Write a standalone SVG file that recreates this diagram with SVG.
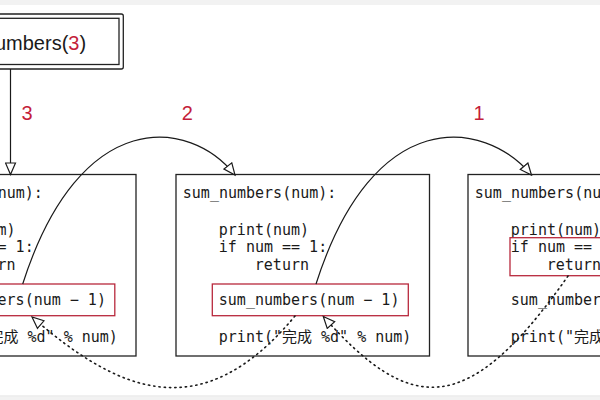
<svg xmlns="http://www.w3.org/2000/svg" width="600" height="400" viewBox="0 0 600 400">
<defs>
<style>
.code{font-family:"DejaVu Sans Mono","Noto Sans CJK SC",monospace;font-size:15px;fill:#1a1a1a}
.frame{fill:#fff;stroke:#222;stroke-width:1.3}
.hl{fill:none;stroke:#b8283c;stroke-width:1.3}
.lbl{font-family:"Liberation Sans",Arial,sans-serif;font-size:20px;fill:#c41e3a;text-anchor:middle}
.call{fill:none;stroke:#1a1a1a;stroke-width:1.2}
.ret{fill:none;stroke:#1a1a1a;stroke-width:1.6;stroke-dasharray:1.3 4;stroke-linecap:round}
</style>
<marker id="open" markerUnits="userSpaceOnUse" markerWidth="14" markerHeight="12" viewBox="0 0 14 12" refX="12.5" refY="6" orient="auto">
<path d="M1,1 L12.5,6 L1,11 Z" fill="#fff" stroke="#1a1a1a" stroke-width="1.2"/>
</marker>
</defs>
<rect x="0" y="0" width="600" height="400" fill="#fff"/>
<rect x="0" y="0" width="600" height="5" fill="#f2f2f2"/>
<rect x="0" y="396" width="600" height="4" fill="#f2f2f2"/>
<line x1="0" y1="395.8" x2="600" y2="395.8" stroke="#e4e4e4" stroke-width="0.8"/>

<g id="start">
<rect x="-102.3" y="14" width="225.6" height="55" rx="2" fill="#fff" stroke="#222" stroke-width="1.3"/>
<rect x="-98" y="18.3" width="217" height="46.2" fill="none" stroke="#222" stroke-width="1.3"/>
<text x="10.5" y="50" font-family="'Liberation Sans',Arial,sans-serif" font-size="20" fill="#1a1a1a" text-anchor="middle">sum_numbers(<tspan fill="#c41e3a">3</tspan>)</text>
</g>

<g id="frame1" transform="translate(-117.5,0)">
<rect class="frame" x="0" y="174.5" width="253.5" height="181.5"/>
<text class="code" x="6.8" y="198">sum_numbers(num):</text>
<text class="code" x="42.8" y="234.5">print(num)</text>
<text class="code" x="42.8" y="252">if num == 1:</text>
<text class="code" x="78.8" y="269.5">return</text>
<rect class="hl" x="36.3" y="284" width="196" height="31.7"/>
<text class="code" x="42.8" y="304.5">sum_numbers(num − 1)</text>
<text class="code" x="42.8" y="342">print("完成 %d" % num)</text>
</g>

<g id="frame2" transform="translate(176,0)">
<rect class="frame" x="0" y="174.5" width="253.5" height="181.5"/>
<text class="code" x="6.8" y="198">sum_numbers(num):</text>
<text class="code" x="42.8" y="234.5">print(num)</text>
<text class="code" x="42.8" y="252">if num == 1:</text>
<text class="code" x="78.8" y="269.5">return</text>
<rect class="hl" x="36.3" y="284" width="196" height="31.7"/>
<text class="code" x="42.8" y="304.5">sum_numbers(num − 1)</text>
<text class="code" x="42.8" y="342">print("完成 %d" % num)</text>
</g>

<g id="frame3" transform="translate(468,0)">
<rect class="frame" x="0" y="174.5" width="253.5" height="181.5"/>
<text class="code" x="6.8" y="198">sum_numbers(num):</text>
<text class="code" x="42.8" y="234.5">print(num)</text>
<text class="code" x="42.8" y="252">if num == 1:</text>
<text class="code" x="78.8" y="269.5">return</text>
<rect class="hl" x="42" y="237.7" width="200" height="38"/>
<text class="code" x="42.8" y="304.5">sum_numbers(num − 1)</text>
<text class="code" x="42.8" y="342">print("完成 %d" % num)</text>
</g>

<g id="connectors">
<path class="call" d="M10.5,69 V174.5" marker-end="url(#open)"/>
<path class="call" d="M22.7,284 C80,105 190,118 235,175" marker-end="url(#open)"/>
<path class="call" d="M316,284 C373.3,105 483.3,118 531.5,175" marker-end="url(#open)"/>
<path class="ret" d="M295,316 C201.5,428.6 118.7,392.4 32,317" marker-end="url(#open)"/>
<path class="ret" d="M568,276 C466.5,421 409.4,413 323.3,316.5" marker-end="url(#open)"/>
<text class="lbl" x="27" y="119.5">3</text>
<text class="lbl" x="187.2" y="119.5">2</text>
<text class="lbl" x="479" y="119.5">1</text>
</g>
</svg>
